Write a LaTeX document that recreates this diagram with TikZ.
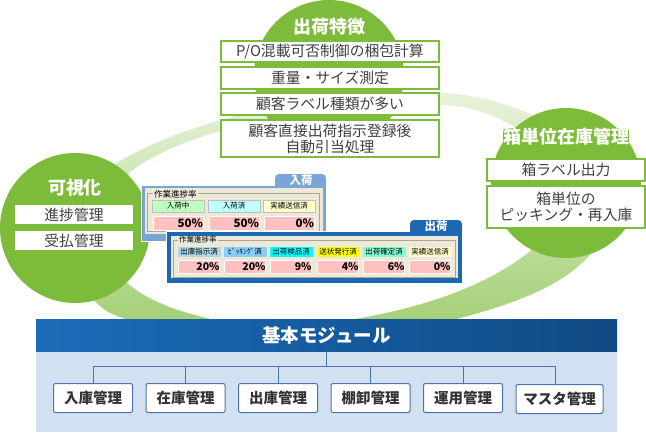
\documentclass[tikz,border=0pt]{standalone}
\usepackage{fontspec}
\setmainfont{Noto Sans CJK JP}
\usetikzlibrary{calc}
\definecolor{leaf}{HTML}{7DBB3A}
\definecolor{barleft}{HTML}{1B6CB8}
\definecolor{barright}{HTML}{104A84}
\definecolor{pale}{HTML}{D2E1F1}
\definecolor{wire}{HTML}{4F72AE}
\definecolor{dialog}{HTML}{ECE9D8}
\definecolor{groupline}{HTML}{A9A692}
\definecolor{rate}{HTML}{FFC0C0}
\definecolor{panelin}{HTML}{7BA5D3}
\definecolor{panelout}{HTML}{1C68B2}
\tikzstyle{wheel} = [circle, fill=leaf, minimum size=150pt, inner sep=0pt]
\tikzstyle{title} = [text=white, font=\fontsize{18}{20}\selectfont\bfseries, inner sep=0pt]
\tikzstyle{note} = [draw=leaf, line width=1.4pt, fill=white, text=black!75, align=center, inner sep=0pt, font=\fontsize{14.8}{16}\selectfont]
\tikzstyle{module} = [draw=wire, line width=1pt, fill=white, rounded corners=2pt, minimum width=79pt, minimum height=29pt, inner sep=0pt, text=black!80, font=\fontsize{14.5}{16}\selectfont\bfseries]
\tikzstyle{conn} = [draw=wire, line width=1pt]
\tikzstyle{tab} = [text=white, inner sep=0pt, font=\fontsize{11.5}{12}\selectfont\bfseries]
\tikzstyle{pane} = [draw=white, line width=0.8pt, inner sep=0pt]
\tikzstyle{cellhead} = [draw=black!25, line width=0.4pt, inner sep=0pt, minimum height=10pt, font=\fontsize{7.5}{8}\selectfont]
\tikzstyle{cellval} = [draw=white, line width=0.4pt, fill=rate, inner sep=0pt, align=right, font=\fontsize{10.5}{12}\selectfont\bfseries]
\tikzstyle{frame} = [draw=groupline, line width=0.6pt, inner sep=0pt]
\tikzstyle{frametext} = [fill=dialog, inner sep=1pt]
\begin{document}
\begin{tikzpicture}[x=1pt, y=-1pt, node distance=26pt]
        \useasboundingbox (0,0) rectangle (646,432);
        % ring behind the circles
        \shade[even odd rule, top color=leaf!18, bottom color=leaf!75]
            (115,164) .. controls (170,130) and (280,92) .. (440,93)
            .. controls (500,94) and (610,130) .. (605,215)
            .. controls (605,270) and (530,300) .. (460,318)
            .. controls (390,340) and (200,350) .. (123,318)
            .. controls (75,305) and (55,240) .. (115,164) -- cycle
            (130,172) .. controls (180,134) and (290,104) .. (440,105)
            .. controls (510,106) and (570,160) .. (560,205)
            .. controls (555,250) and (480,285) .. (440,298)
            .. controls (370,322) and (270,335) .. (207,318)
            .. controls (150,305) and (60,270) .. (130,172) -- cycle;
        % circles
        \node[wheel] (ship) at (329,75) {};
        \node[wheel] (box) at (566,183) {};
        \node[wheel] (view) at (75,228) {};
        \node[title] (shiptitle) at (329,27) {出荷特徴};
        \node[title, fill=leaf, rounded corners=3pt] (boxtitle) at (566,137) {箱単位在庫管理};
        \node[title] (viewtitle) at (75,188) {可視化};
        % top notes
        \node[note, minimum width=218pt, minimum height=21pt] (ship1) at (330,51.5) {P/O混載可否制御の梱包計算};
        \node[note, minimum width=218pt, minimum height=22pt, below of=ship1, node distance=26.5pt] (ship2) {重量・サイズ測定};
        \node[note, minimum width=218pt, minimum height=22pt, below of=ship2] (ship3) {顧客ラベル種類が多い};
        \node[note, minimum width=218pt, minimum height=37pt, below of=ship3, node distance=34.5pt] (ship4) {顧客直接出荷指示登録後\\自動引当処理};
        % right notes
        \node[note, minimum width=158pt, minimum height=22pt] (box1) at (566,170) {箱ラベル出力};
        \node[note, minimum width=158pt, minimum height=42pt, below of=box1, node distance=37pt] (box2) {箱単位の\\ピッキング・再入庫};
        % left notes
        \node[note, minimum width=119pt, minimum height=21pt] (view1) at (74,214.5) {進捗管理};
        \node[note, minimum width=119pt, minimum height=21pt, below of=view1] (view2) {受払管理};
        % receiving panel
        \node[pane, fill=panelin, minimum width=185pt, minimum height=56pt] (inpane) at (233.5,213) {};
        \fill[panelin, rounded corners=4pt] (275,187) |- (326,174) -- (326,190) -- (275,190) -- cycle;
        \node[tab] (intab) at (301,180.5) {入荷};
        \node[fill=dialog, inner sep=0pt, minimum width=178pt, minimum height=46pt] (indlg) at (234,211) {};
        \node[frame, minimum width=172pt, minimum height=38pt] (ingroup) at (233,212) {};
        \node[frametext, anchor=west, font=\fontsize{8.5}{9}\selectfont] (inlabel) at (153,194) {作業進捗率};
        \foreach \cx/\col/\head/\val in {178/BFFFBF/入荷中/50\%, 234/BFFFFF/入荷済/50\%, 289/FFFFCC/実績送信済/0\%} {
            \definecolor{headfill}{HTML}{\col}
            \node[cellhead, fill=headfill, minimum width=52pt, minimum height=12pt] (inh\cx) at (\cx,206) {\head};
            \node[cellval, text width=50pt, minimum height=14pt, font=\fontsize{11.5}{12}\selectfont\bfseries] (inv\cx) at (\cx,223) {\val};
        }
        % shipping panel
        \node[pane, fill=panelout, minimum width=296pt, minimum height=52pt] (outpane) at (314,257) {};
        \fill[panelout, rounded corners=4pt] (410,233) |- (462,220) -- (462,236) -- (410,236) -- cycle;
        \node[tab] (outtab) at (436,226.5) {出荷};
        \node[fill=dialog, inner sep=0pt, minimum width=287pt, minimum height=42pt] (outdlg) at (314.5,257) {};
        \node[frame, minimum width=282pt, minimum height=37pt] (outgroup) at (314.5,258.5) {};
        \node[frametext, anchor=west, font=\fontsize{7.5}{8}\selectfont] (outlabel) at (178,240) {作業進捗率};
        \foreach \cx/\col/\head/\val in {199/ADD8E6/出庫指示済/20\%, 245/87CEFA/ﾋﾟｯｷﾝｸﾞ済/20\%, 291/00FFFF/出荷検品済/9\%, 338/FFFF00/送状発行済/4\%, 384/7FFFD4/出荷確定済/6\%, 430/FFFFCC/実績送信済/0\%} {
            \definecolor{headfill}{HTML}{\col}
            \node[cellhead, draw=none, fill=headfill, minimum width=43pt] (outh\cx) at (\cx,252) {\head};
            \node[cellval, text width=41pt, minimum height=13pt] (outv\cx) at (\cx,266.5) {\val};
        }
        % base module
        \fill[pale] (36,350) rectangle (617,432);
        \node[left color=barleft, right color=barright, minimum width=581pt, minimum height=32pt, inner sep=0pt, title, font=\fontsize{18.5}{20}\selectfont\bfseries] (base) at (326.5,335) {基本モジュール};
        \node[module] (mod1) at (93,398) {入庫管理};
        \node[module, right of=mod1, node distance=92.5pt] (mod2) {在庫管理};
        \node[module, right of=mod2, node distance=92.5pt] (mod3) {出庫管理};
        \node[module, right of=mod3, node distance=92.5pt] (mod4) {棚卸管理};
        \node[module, right of=mod4, node distance=92.5pt] (mod5) {運用管理};
        \node[module, minimum width=87pt, right of=mod5, node distance=96.5pt, yshift=-1pt] (mod6) {マスタ管理};
        \coordinate (bus) at (326.5,366);
        \path[conn] (base) -- (bus);
        \foreach \m in {mod1,mod2,mod3,mod4,mod5} {
            \path[conn] (bus) -| (\m.north);
        }
        \path[conn] (bus) -| ([xshift=-4pt]mod6.north);
    \end{tikzpicture}
\end{document}
